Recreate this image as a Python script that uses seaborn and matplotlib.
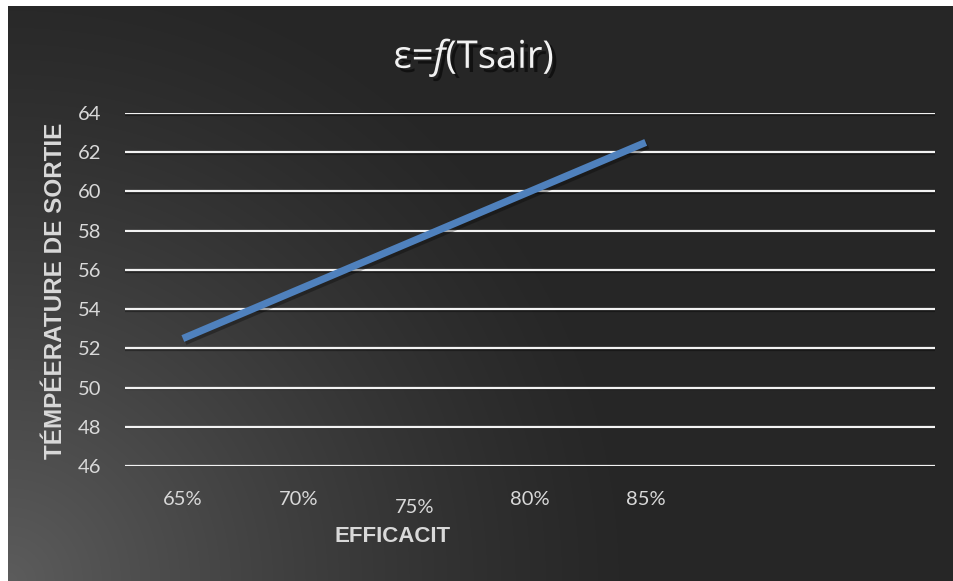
import numpy as np
import pandas as pd
import matplotlib
matplotlib.use("Agg")
import matplotlib.pyplot as plt
import matplotlib.patheffects as pe
from matplotlib.transforms import ScaledTranslation
import seaborn as sns

# Data
efficacite = ["65%", "70%", "75%", "80%", "85%"]
temperature = [52.5, 55.0, 57.5, 60.0, 62.5]
y_ticks = [46, 48, 50, 52, 54, 56, 58, 60, 62, 64]

title_text = "ε=$\\mathit{f}$(Tsair)"
x_title = "EFFICACIT"
y_title = "TÉMPÉERATURE DE SORTIE"

sns.set_theme(style="dark")
plt.rcParams["font.family"] = ["Lato", "DejaVu Sans"]
plt.rcParams["mathtext.fontset"] = "custom"
plt.rcParams["mathtext.rm"] = "Open Sans"
plt.rcParams["mathtext.it"] = "Open Sans:italic"

W, H = 954, 581
fig = plt.figure(figsize=(W / 100, H / 100), dpi=100, facecolor="white")

# Dark chart area with a soft light spot in the lower-left corner
bg = fig.add_axes([8 / W, 0, (W - 9) / W, (H - 6) / H], zorder=0)
gx, gy = np.meshgrid(np.arange(W - 9), np.arange(H - 6))
dist = np.hypot(gx, (H - 6) - gy)
t = np.clip(1 - dist / 640, 0, 1) ** 1.3
dark, light = 38, 92
val = (dark + (light - dark) * t) / 255.0
img = np.dstack([val, val, val])
bg.imshow(img, aspect="auto", origin="upper", interpolation="bilinear")
bg.set_axis_off()

ax = fig.add_axes([125 / W, 1 - 466 / H, 810 / W, 353 / H], zorder=1)
ax.set_facecolor("none")

df = pd.DataFrame({"eff": efficacite, "temp": temperature})
sns.lineplot(data=df, x="eff", y="temp", ax=ax, color="#4F81BD", linewidth=5.2,
             solid_capstyle="butt", zorder=3,
             path_effects=[pe.SimpleLineShadow(offset=(1.5, -2), shadow_color="black", alpha=0.3, linewidth=5.5),
                           pe.Normal()])

ax.set_xlim(-0.5, 6.5)
ax.set_ylim(46, 64)
ax.set_yticks(y_ticks)
ax.set_xticks(range(len(efficacite)))
ax.set_xticklabels(efficacite)

for y in y_ticks:
    ax.axhline(y, color="#f2f2f2", linewidth=1.6, zorder=2,
               path_effects=[pe.SimpleLineShadow(offset=(0, -1.2), shadow_color="black", alpha=0.35),
                             pe.Normal()])

ax.grid(False)
for s in ax.spines.values():
    s.set_visible(False)
ax.tick_params(axis="both", length=0, colors="#d9d9d9", labelsize=14.5)
ax.tick_params(axis="x", pad=18)
ax.tick_params(axis="y", pad=17)
ax.set_xlabel("")
ax.set_ylabel("")

# The 75% label sits a little lower than its neighbours
lbl = ax.get_xticklabels()[2]
lbl.set_transform(lbl.get_transform() + ScaledTranslation(0, -8 / 100, fig.dpi_scale_trans))

fig.text(56 / W, 1 - 291 / H, y_title, rotation=90, ha="center", va="center",
         family="Liberation Sans", fontweight="bold", fontsize=17.5, color="#d9d9d9")
fig.text(393 / W, 1 - 536 / H, x_title, ha="center", va="center",
         family="Liberation Sans", fontweight="bold", fontsize=16, color="#d9d9d9")

fig.text(474 / W, 1 - 68 / H, title_text, ha="center", va="baseline",
         family=["Open Sans", "DejaVu Sans"], fontsize=27.5, color="#f2f2f2",
         path_effects=[pe.SimplePatchShadow(offset=(3, -3), shadow_rgbFace="black", alpha=0.55),
                       pe.Normal()])

fig.savefig("out.png", dpi=100, facecolor="white")
